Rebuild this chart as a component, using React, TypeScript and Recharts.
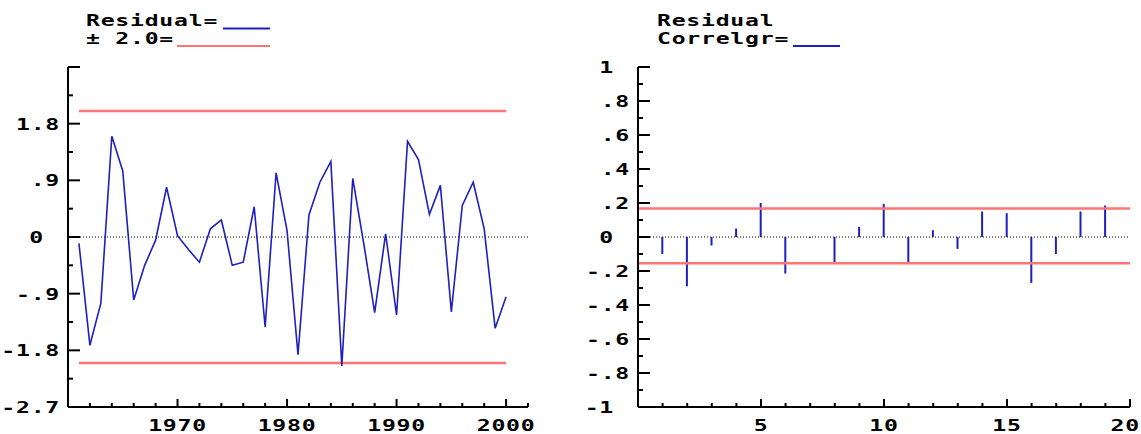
import React from "react"
import {
  ComposedChart,
  Line,
  Bar,
  XAxis,
  YAxis,
  ReferenceLine,
} from "recharts"

// residual series, one value per year
const years = [
  1961, 1962, 1963, 1964, 1965, 1966, 1967, 1968, 1969, 1970,
  1971, 1972, 1973, 1974, 1975, 1976, 1977, 1978, 1979, 1980,
  1981, 1982, 1983, 1984, 1985, 1986, 1987, 1988, 1989, 1990,
  1991, 1992, 1993, 1994, 1995, 1996, 1997, 1998, 1999, 2000,
]
const residuals = [
  -0.1, -1.72, -1.05, 1.6, 1.05, -1.0, -0.45, -0.05, 0.79, 0.02,
  -0.2, -0.4, 0.13, 0.27, -0.45, -0.4, 0.48, -1.43, 1.02, 0.1,
  -1.87, 0.35, 0.87, 1.2, -2.05, 0.93, -0.1, -1.2, 0.05, -1.24,
  1.52, 1.23, 0.36, 0.82, -1.19, 0.5, 0.87, 0.13, -1.45, -0.95,
]
const bandUpper = 2.0
const bandLower = -2.0

// residual correlogram
const lags = [1, 2, 3, 4, 5, 6, 7, 8, 9, 10, 11, 12, 13, 14, 15, 16, 17, 18, 19]
const correlations = [
  -0.1, -0.29, -0.05, 0.05, 0.2, -0.215, -0.005, -0.15, 0.06, 0.195,
  -0.15, 0.04, -0.07, 0.15, 0.14, -0.27, -0.1, 0.15, 0.185,
]
const corrUpper = 0.168
const corrLower = -0.155

// axis ticks + labels
const leftYTicks = [2.7, 2.25, 1.8, 1.35, 0.9, 0.45, 0, -0.45, -0.9, -1.35, -1.8, -2.25, -2.7]
const leftYLabels = ["", "", "1.8", "", ".9", "", "0", "", "-.9", "", "-1.8", "", "-2.7"]
const leftXTicks = [
  1960, 1962, 1964, 1966, 1968, 1970, 1972, 1974, 1976, 1978, 1980,
  1982, 1984, 1986, 1988, 1990, 1992, 1994, 1996, 1998, 2000, 2002,
]
const leftXLabels = ["1970", "1980", "1990", "2000"]

const rightYTicks = [1, 0.9, 0.8, 0.7, 0.6, 0.5, 0.4, 0.3, 0.2, 0.1, 0, -0.1, -0.2, -0.3, -0.4, -0.5, -0.6, -0.7, -0.8, -0.9, -1]
const rightYLabels = ["1", "", ".8", "", ".6", "", ".4", "", ".2", "", "0", "", "-.2", "", "-.4", "", "-.6", "", "-.8", "", "-1"]
const rightXTicks = [0, 1, 2, 3, 4, 5, 6, 7, 8, 9, 10, 11, 12, 13, 14, 15, 16, 17, 18, 19, 20]
const rightXLabels = ["5", "10", "15", "20"]

const BLUE = "#1f1fc0"
const RED = "#ff7474"
const SX = 1.45 // horizontal stretch, the original font is a wide bitmap one
const CHAR_W = 14.7

const font: React.CSSProperties = {
  fontFamily: "'DejaVu Sans Mono', monospace",
  fontWeight: "bold",
  fontSize: 16,
  letterSpacing: 0.5,
  fill: "#000",
}
const legendFont: React.CSSProperties = { ...font, fontSize: 15 }
const LEGEND_SX = 1.54

function MonoText({ x, y, anchor = "start", children }: { x: number; y: number; anchor?: "start" | "middle" | "end"; children: React.ReactNode }) {
  return (
    <text transform={`translate(${x},${y}) scale(${SX},1)`} x={0} y={0} textAnchor={anchor} style={font}>
      {children}
    </text>
  )
}

function LegendText({ x, y, children }: { x: number; y: number; children: React.ReactNode }) {
  return (
    <text transform={`translate(${x},${y}) scale(${LEGEND_SX},1)`} x={0} y={0} style={legendFont}>
      {children}
    </text>
  )
}

const residualData = years.map((year, i) => ({
  year,
  residual: residuals[i],
  upper: bandUpper,
  lower: bandLower,
}))

const corrData = lags.map((lag, i) => ({ lag, r: correlations[i] }))

function makeYTick(values: number[], labels: string[]) {
  return (props: any) => {
    const { x, y, payload } = props
    const i = values.findIndex((v) => Math.abs(v - payload.value) < 1e-9)
    const label = labels[i] || ""
    const major = i % 2 === 0
    const right = label.includes(".") ? x - 8 : x - 24
    return (
      <g>
        <line x1={x} y1={y} x2={x + (major ? 12 : 5)} y2={y} stroke="#000" strokeWidth={2} />
        {label && (
          <MonoText x={right} y={y + 6} anchor="end">
            {label}
          </MonoText>
        )}
      </g>
    )
  }
}

function makeXTick(labels: string[], isMajor: (v: number) => boolean, maxRight: number) {
  return (props: any) => {
    const { x, y, payload } = props
    const major = isMajor(payload.value)
    const label = labels.includes(String(payload.value)) ? String(payload.value) : ""
    const half = (label.length * CHAR_W) / 2
    const cx = Math.min(x, maxRight - half)
    return (
      <g>
        <line x1={x} y1={y} x2={x} y2={y - (major ? 8 : 4)} stroke="#000" strokeWidth={2} />
        {label && (
          <MonoText x={cx} y={y + 24} anchor="middle">
            {label}
          </MonoText>
        )}
      </g>
    )
  }
}

const LeftYTick = makeYTick(leftYTicks, leftYLabels)
const RightYTick = makeYTick(rightYTicks, rightYLabels)
const LeftXTick = makeXTick(leftXLabels, (v) => v % 10 === 0, 570)
const RightXTick = makeXTick(rightXLabels, (v) => v % 5 === 0, 570)

export default function App() {
  return (
    <div style={{ position: "absolute", left: 0, top: 0, width: 1141, height: 434, background: "#fff" }}>
      <div style={{ position: "absolute", left: 0, top: 0 }}>
        <ComposedChart width={540} height={434} data={residualData} margin={{ top: 67, right: 12, bottom: 0, left: 8 }}>
          <XAxis
            dataKey="year"
            type="number"
            domain={[1960, 2002]}
            ticks={leftXTicks}
            interval={0}
            height={27}
            tickSize={0}
            tickMargin={0}
            tickLine={false}
            axisLine={{ stroke: "#000", strokeWidth: 2 }}
            tick={LeftXTick}
          />
          <YAxis
            type="number"
            domain={[-2.7, 2.7]}
            ticks={leftYTicks}
            interval={0}
            width={60}
            tickSize={0}
            tickMargin={0}
            tickLine={false}
            axisLine={{ stroke: "#000", strokeWidth: 2 }}
            tick={LeftYTick}
          />
          <ReferenceLine y={0} stroke="#000" strokeWidth={1} strokeDasharray="1 2" />
          <Line dataKey="upper" stroke={RED} strokeWidth={2.5} dot={false} isAnimationActive={false} />
          <Line dataKey="lower" stroke={RED} strokeWidth={2.5} dot={false} isAnimationActive={false} />
          <Line dataKey="residual" type="linear" stroke={BLUE} strokeWidth={1.6} dot={false} isAnimationActive={false} />
        </ComposedChart>
      </div>

      <div style={{ position: "absolute", left: 570, top: 0 }}>
        <ComposedChart width={571} height={434} data={corrData} margin={{ top: 67, right: 11, bottom: 0, left: 8 }}>
          <XAxis
            dataKey="lag"
            type="number"
            domain={[0, 20]}
            ticks={rightXTicks}
            interval={0}
            height={27}
            tickSize={0}
            tickMargin={0}
            tickLine={false}
            axisLine={{ stroke: "#000", strokeWidth: 2 }}
            tick={RightXTick}
          />
          <YAxis
            type="number"
            domain={[-1, 1]}
            ticks={rightYTicks}
            interval={0}
            width={60}
            tickSize={0}
            tickMargin={0}
            tickLine={false}
            axisLine={{ stroke: "#000", strokeWidth: 2 }}
            tick={RightYTick}
          />
          <ReferenceLine y={0} stroke="#000" strokeWidth={1} strokeDasharray="1 2" />
          <ReferenceLine y={corrUpper} stroke={RED} strokeWidth={2.5} />
          <ReferenceLine y={corrLower} stroke={RED} strokeWidth={2.5} />
          <Bar dataKey="r" fill={BLUE} barSize={2} isAnimationActive={false} />
        </ComposedChart>
      </div>

      <svg width={1141} height={60} style={{ position: "absolute", left: 0, top: 0, pointerEvents: "none" }}>
        <LegendText x={86} y={26}>Residual=</LegendText>
        <LegendText x={86} y={44}>± 2.0=</LegendText>
        <line x1={223} y1={28.5} x2={270} y2={28.5} stroke={BLUE} strokeWidth={2} />
        <line x1={177} y1={46} x2={270} y2={46} stroke={RED} strokeWidth={2} />
        <LegendText x={657} y={26}>Residual</LegendText>
        <LegendText x={657} y={44}>Correlgr=</LegendText>
        <line x1={793} y1={46} x2={840} y2={46} stroke={BLUE} strokeWidth={2} />
      </svg>
    </div>
  )
}
